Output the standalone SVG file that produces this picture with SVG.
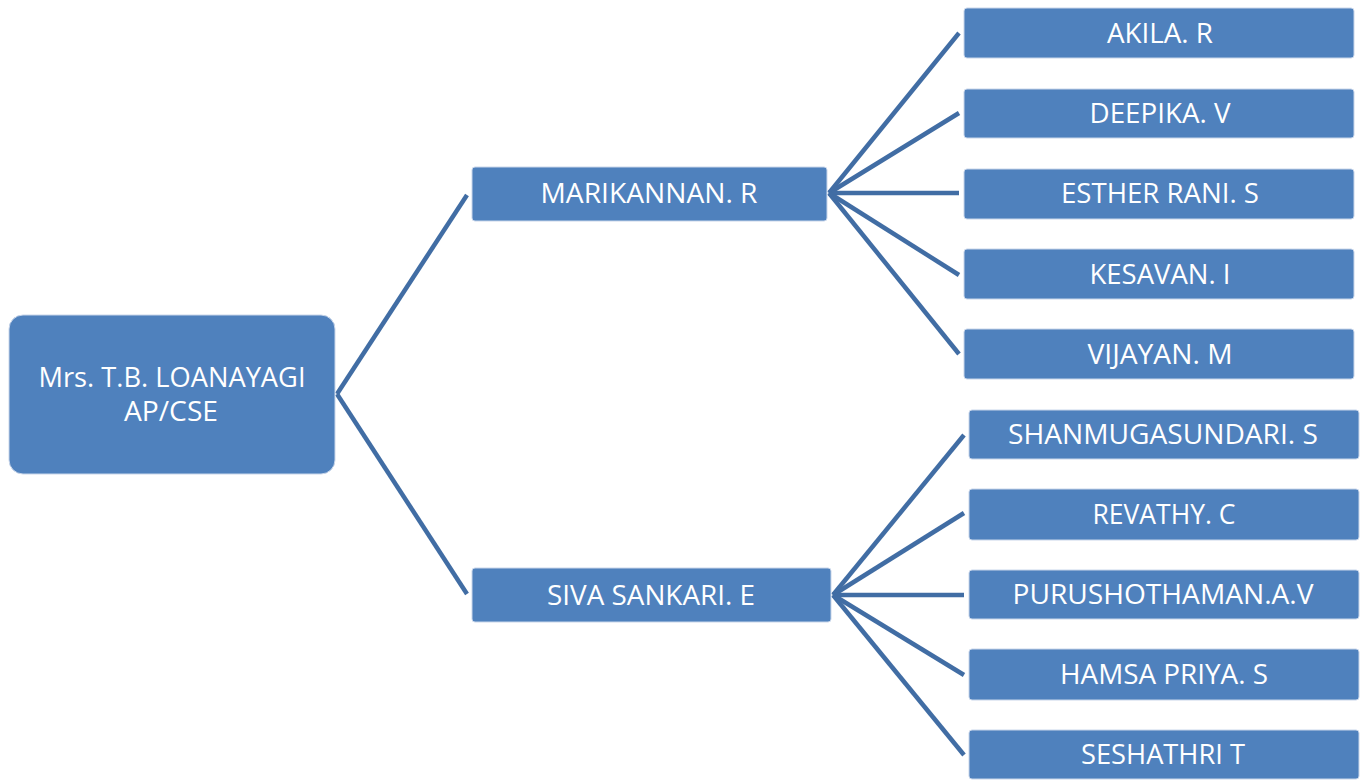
<svg xmlns="http://www.w3.org/2000/svg" width="1363" height="780" viewBox="0 0 1363 780">
<style>
.box{fill:#4F81BD;stroke:#c9d6ea;stroke-width:1}
.t{font-family:"Open Sans","Liberation Sans",sans-serif;font-size:27px;fill:#ffffff;text-anchor:middle}
.c{stroke:#416DA4;stroke-width:4.5;fill:none;stroke-linecap:butt}
</style>
<rect width="1363" height="780" fill="#ffffff"/>
<g id="connectors">
<line class="c" x1="337" y1="394" x2="467" y2="195"/>
<line class="c" x1="337" y1="394" x2="467" y2="594"/>
<line class="c" x1="829" y1="193" x2="959" y2="33"/>
<line class="c" x1="829" y1="193" x2="959" y2="113"/>
<line class="c" x1="829" y1="193" x2="959" y2="193"/>
<line class="c" x1="829" y1="193" x2="959" y2="275"/>
<line class="c" x1="829" y1="193" x2="959" y2="354"/>
<line class="c" x1="833" y1="595" x2="964" y2="435"/>
<line class="c" x1="833" y1="595" x2="964" y2="513"/>
<line class="c" x1="833" y1="595" x2="964" y2="595"/>
<line class="c" x1="833" y1="595" x2="964" y2="675"/>
<line class="c" x1="833" y1="595" x2="964" y2="755"/>
</g>
<g id="root">
<rect class="box" x="9" y="315" width="326" height="159" rx="14"/>
<text class="t" x="172" y="387" textLength="267" lengthAdjust="spacingAndGlyphs">Mrs. T.B. LOANAYAGI</text>
<text class="t" x="171" y="421" textLength="94" lengthAdjust="spacingAndGlyphs">AP/CSE</text>
</g>
<g id="marikannan">
<rect class="box" x="472" y="167" width="355" height="54" rx="3"/>
<text class="t" x="649" y="203" textLength="217" lengthAdjust="spacingAndGlyphs">MARIKANNAN. R</text>
</g>
<g id="sivasankari">
<rect class="box" x="472" y="568" width="359" height="54" rx="3"/>
<text class="t" x="651" y="605" textLength="208" lengthAdjust="spacingAndGlyphs">SIVA SANKARI. E</text>
</g>
<g id="akila">
<rect class="box" x="964" y="8" width="390" height="50" rx="3"/>
<text class="t" x="1160" y="43" textLength="106" lengthAdjust="spacingAndGlyphs">AKILA. R</text>
</g>
<g id="deepika">
<rect class="box" x="964" y="89" width="390" height="49" rx="3"/>
<text class="t" x="1160" y="123" textLength="141" lengthAdjust="spacingAndGlyphs">DEEPIKA. V</text>
</g>
<g id="esther">
<rect class="box" x="964" y="169" width="390" height="50" rx="3"/>
<text class="t" x="1160" y="203" textLength="198" lengthAdjust="spacingAndGlyphs">ESTHER RANI. S</text>
</g>
<g id="kesavan">
<rect class="box" x="964" y="249" width="390" height="50" rx="3"/>
<text class="t" x="1160" y="284" textLength="141" lengthAdjust="spacingAndGlyphs">KESAVAN. I</text>
</g>
<g id="vijayan">
<rect class="box" x="964" y="329" width="390" height="50" rx="3"/>
<text class="t" x="1160" y="364" textLength="145" lengthAdjust="spacingAndGlyphs">VIJAYAN. M</text>
</g>
<g id="shanmugasundari">
<rect class="box" x="969" y="410" width="390" height="49" rx="3"/>
<text class="t" x="1163" y="444" textLength="310" lengthAdjust="spacingAndGlyphs">SHANMUGASUNDARI. S</text>
</g>
<g id="revathy">
<rect class="box" x="969" y="489" width="390" height="51" rx="3"/>
<text class="t" x="1164" y="524" textLength="143" lengthAdjust="spacingAndGlyphs">REVATHY. C</text>
</g>
<g id="purushothaman">
<rect class="box" x="969" y="570" width="390" height="49" rx="3"/>
<text class="t" x="1163" y="604" textLength="301" lengthAdjust="spacingAndGlyphs">PURUSHOTHAMAN.A.V</text>
</g>
<g id="hamsapriya">
<rect class="box" x="969" y="649" width="390" height="51" rx="3"/>
<text class="t" x="1164" y="684" textLength="208" lengthAdjust="spacingAndGlyphs">HAMSA PRIYA. S</text>
</g>
<g id="seshathri">
<rect class="box" x="969" y="730" width="390" height="49" rx="3"/>
<text class="t" x="1163" y="764" textLength="164" lengthAdjust="spacingAndGlyphs">SESHATHRI T</text>
</g>
</svg>
